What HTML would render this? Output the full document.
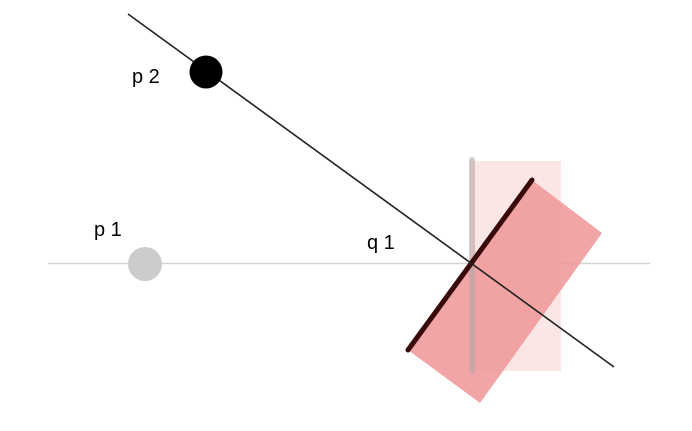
<!DOCTYPE html>
<html><head><style>html,body{margin:0;padding:0;background:#fff}svg{display:block}</style></head>
<body>
<svg width="692" height="431" viewBox="0 0 692 431" xmlns="http://www.w3.org/2000/svg" font-family="Liberation Sans, sans-serif" font-size="20">
<rect width="692" height="431" fill="#fff"/>
<line x1="48" y1="263.5" x2="650" y2="263.5" stroke="#d4d4d4" stroke-width="1.5"/>
<rect x="470" y="161" width="91" height="210" fill="#fbe6e6"/>
<polygon points="532,180 602,233 480,403 408,350" fill="#ee9596" opacity="0.85"/>
<line x1="472" y1="160" x2="472" y2="371" stroke="#b8a8a8" stroke-width="6" stroke-linecap="round" opacity="0.6"/>
<line x1="408" y1="350" x2="532" y2="180" stroke="#3a0a0a" stroke-width="5" stroke-linecap="round"/>
<line x1="128" y1="14" x2="614" y2="367" stroke="#222" stroke-width="1.6"/>
<circle cx="206" cy="72" r="16.5" fill="#000"/>
<circle cx="145" cy="264" r="17" fill="#cccccc"/>
<text x="132" y="83">p 2</text>
<text x="94" y="236">p 1</text>
<text x="367" y="249">q 1</text>
</svg>
</body></html>
